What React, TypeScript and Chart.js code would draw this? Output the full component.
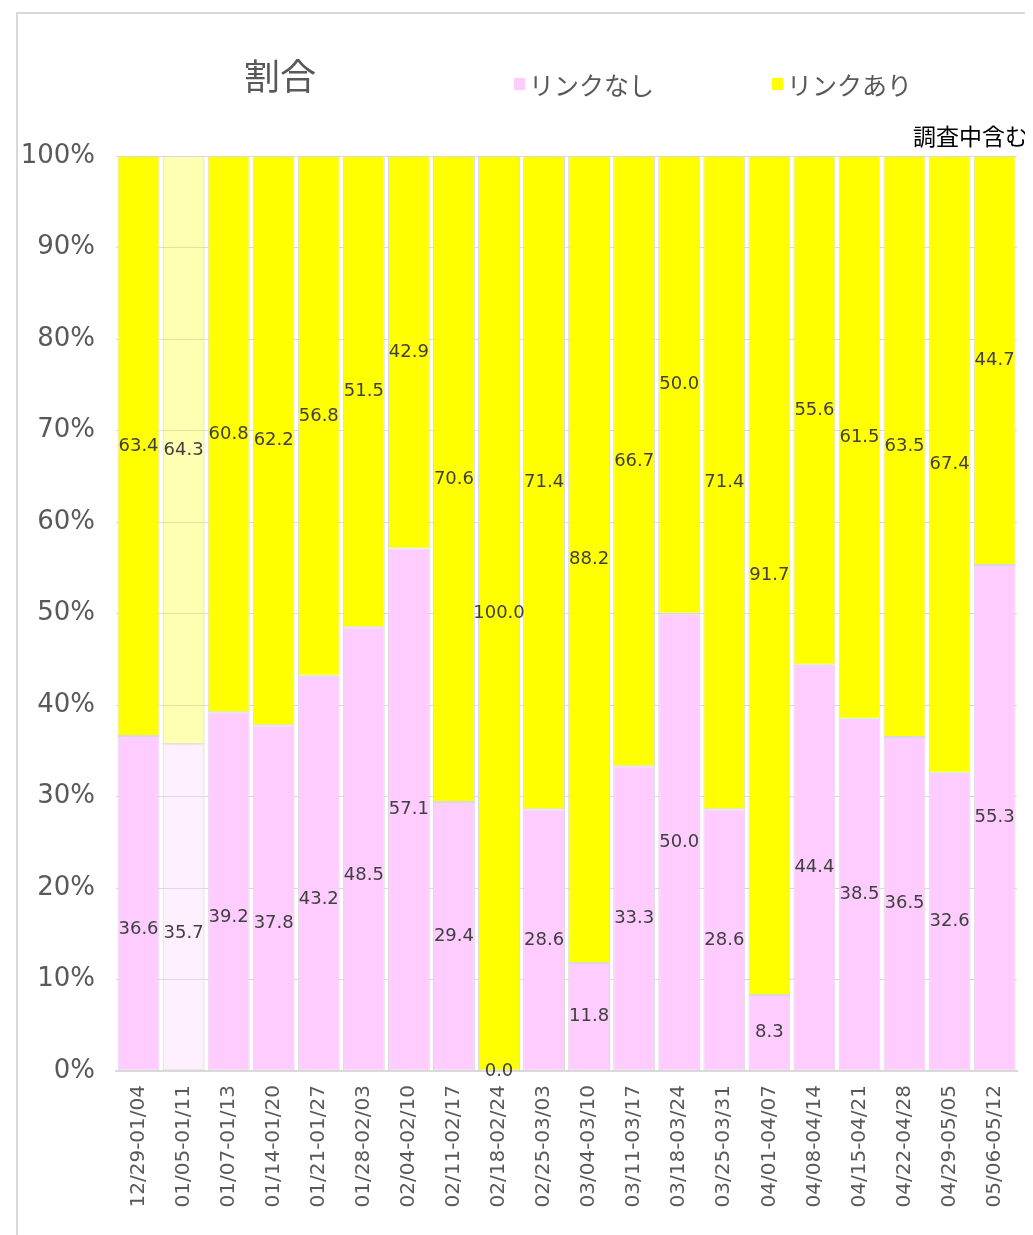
import React, { useEffect, useRef } from "react";
import { Chart, registerables } from "chart.js";

Chart.register(...registerables);

const categories = [
  "12/29-01/04", "01/05-01/11", "01/07-01/13", "01/14-01/20", "01/21-01/27",
  "01/28-02/03", "02/04-02/10", "02/11-02/17", "02/18-02/24", "02/25-03/03",
  "03/04-03/10", "03/11-03/17", "03/18-03/24", "03/25-03/31", "04/01-04/07",
  "04/08-04/14", "04/15-04/21", "04/22-04/28", "04/29-05/05", "05/06-05/12",
];
const linkNashi = [36.6, 35.7, 39.2, 37.8, 43.2, 48.5, 57.1, 29.4, 0.0, 28.6, 11.8, 33.3, 50.0, 28.6, 8.3, 44.4, 38.5, 36.5, 32.6, 55.3];
const linkAri = [63.4, 64.3, 60.8, 62.2, 56.8, 51.5, 42.9, 70.6, 100.0, 71.4, 88.2, 66.7, 50.0, 71.4, 91.7, 55.6, 61.5, 63.5, 67.4, 44.7];
const yTicks = [0, 10, 20, 30, 40, 50, 60, 70, 80, 90, 100];
const seriesNames = ["リンクなし", "リンクあり"];
const titleText = "割合";
const noteText = "調査中含む";
const fadedIndex = 1;

const PINK = "#ffccff";
const YELLOW = "#ffff00";
const PINK_FADED = "rgba(255,204,255,0.3)";
const YELLOW_FADED = "rgba(255,255,0,0.3)";
const GRID = "#d9d9d9";
const TEXT = "#595959";
const JP = '"Noto Sans CJK JP", "Noto Sans", sans-serif';
const LATIN = '"DejaVu Sans", sans-serif';

const decorPlugin = {
  id: "decor",
  beforeDraw(chart: any) {
    const ctx = chart.ctx;
    ctx.save();
    ctx.strokeStyle = GRID;
    ctx.lineWidth = 2;
    ctx.strokeRect(9, 5, 3000, 3000);
    ctx.restore();
  },
  afterDraw(chart: any) {
    const ctx = chart.ctx;
    ctx.save();
    ctx.fillStyle = TEXT;
    ctx.textBaseline = "middle";
    ctx.textAlign = "center";
    ctx.font = `36px ${JP}`;
    ctx.fillText(titleText, 272, 68);

    ctx.textAlign = "left";
    ctx.font = `25px ${JP}`;
    ctx.fillStyle = PINK;
    ctx.fillRect(506, 70, 11, 12);
    ctx.fillStyle = TEXT;
    ctx.fillText(seriesNames[0], 521, 77);
    ctx.fillStyle = YELLOW;
    ctx.fillRect(764, 70, 11, 12);
    ctx.fillStyle = TEXT;
    ctx.fillText(seriesNames[1], 779, 77);

    ctx.textAlign = "right";
    ctx.fillStyle = "#000000";
    ctx.font = `23px ${JP}`;
    ctx.fillText(noteText, 1020, 128);
    ctx.restore();
  },
};

const labelPlugin = {
  id: "segLabels",
  afterDatasetsDraw(chart: any) {
    const ctx = chart.ctx;
    ctx.save();
    ctx.font = `18px ${LATIN}`;
    ctx.fillStyle = "#404040";
    ctx.textAlign = "center";
    ctx.textBaseline = "middle";
    chart.data.datasets.forEach((ds: any, di: number) => {
      const meta = chart.getDatasetMeta(di);
      meta.data.forEach((el: any, i: number) => {
        const v = ds.data[i];
        let y = (el.y + el.base) / 2;
        if (di === 0 && i < 6) y += 26;
        ctx.fillText(Number(v).toFixed(1), el.x, y);
      });
    });
    ctx.restore();
  },
};

export default function App() {
  const ref = useRef<HTMLCanvasElement | null>(null);
  useEffect(() => {
    if (!ref.current) return;
    const chart = new Chart(ref.current, {
      type: "bar",
      data: {
        labels: categories,
        datasets: [
          {
            label: seriesNames[0],
            data: linkNashi,
            backgroundColor: linkNashi.map((_, i) => (i === fadedIndex ? PINK_FADED : PINK)),
            borderColor: GRID,
            borderWidth: 1,
            borderSkipped: false,
            categoryPercentage: 1,
            barPercentage: 0.93,
          },
          {
            label: seriesNames[1],
            data: linkAri,
            backgroundColor: linkAri.map((_, i) => (i === fadedIndex ? YELLOW_FADED : YELLOW)),
            borderColor: GRID,
            borderWidth: 1,
            borderSkipped: false,
            categoryPercentage: 1,
            barPercentage: 0.93,
          },
        ],
      },
      options: {
        responsive: false,
        animation: false,
        layout: { padding: { top: 148, right: 14, left: 0, bottom: 0 } },
        plugins: { legend: { display: false }, title: { display: false }, tooltip: { enabled: false } },
        scales: {
          x: {
            stacked: true,
            grid: { display: false, drawTicks: false },
            border: { display: true, color: GRID, width: 2 },
            ticks: {
              minRotation: 90,
              maxRotation: 90,
              padding: 14,
              color: TEXT,
              font: { family: LATIN, size: 20 },
            },
            afterFit(scale: any) {
              scale.height = 164;
            },
          },
          y: {
            stacked: true,
            min: 0,
            max: 100,
            afterBuildTicks(scale: any) {
              scale.ticks = yTicks.map((v) => ({ value: v }));
            },
            grid: { color: GRID, lineWidth: 1, drawTicks: false },
            border: { display: false },
            ticks: {
              padding: 21,
              color: TEXT,
              font: { family: LATIN, size: 26 },
              callback: (v: any) => `${v}%`,
            },
            afterFit(scale: any) {
              scale.width = 108;
            },
          },
        },
      },
      plugins: [decorPlugin, labelPlugin],
    });
    return () => chart.destroy();
  }, []);
  return (
    <div style={{ position: "relative", width: 1025, height: 1227 }}>
      <canvas ref={ref} width={1025} height={1227} style={{ display: "block" }} />
    </div>
  );
}
